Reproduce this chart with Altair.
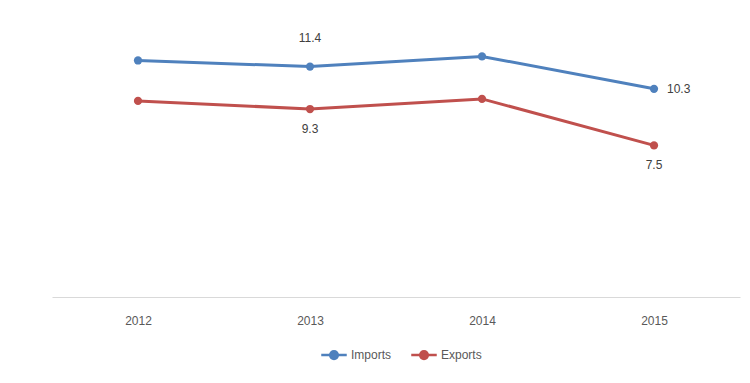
import altair as alt
import pandas as pd

years = ["2012", "2013", "2014", "2015"]
imports = [11.7, 11.4, 11.9, 10.3]
exports = [9.7, 9.3, 9.8, 7.5]
series = ["Imports", "Exports"]
colors = ["#4F81BD", "#C0504D"]

rows = []
for y, v in zip(years, imports):
    rows.append({"year": y, "series": "Imports", "value": v})
for y, v in zip(years, exports):
    rows.append({"year": y, "series": "Exports", "value": v})
df = pd.DataFrame(rows)

FONT = "Liberation Sans"
TXT = "#404040"

x = alt.X("year:N", title=None, sort=years,
          scale=alt.Scale(paddingInner=0, paddingOuter=0, align=0.5),
          axis=alt.Axis(labelAngle=0, ticks=False, labelPadding=18, domainColor="#D9D9D9",
                        labelColor="#595959", labelFont=FONT, labelFontSize=12, grid=False))
y = alt.Y("value:Q", title=None, scale=alt.Scale(domain=[0, 14]), axis=None)
color = alt.Color("series:N", sort=series,
                  scale=alt.Scale(domain=series, range=colors),
                  legend=alt.Legend(title=None, orient="none", direction="horizontal",
                                    legendX=268, legendY=327,
                                    symbolType="M-1,0L-0.3,0M0.3,0L1,0M-0.3,0A0.3,0.3 0 1,1 0.3,0A0.3,0.3 0 1,1 -0.3,0Z",
                                    symbolSize=650, symbolStrokeWidth=2.5,
                                    labelFont=FONT, labelFontSize=12, labelColor="#595959",
                                    columnPadding=14, labelOffset=3))

base = alt.Chart(df)
lines = base.mark_line(strokeWidth=3).encode(x=x, y=y, color=color)
points = base.mark_circle(size=68, opacity=1).encode(
    x=x, y=y,
    color=alt.Color("series:N", sort=series, scale=alt.Scale(domain=series, range=colors), legend=None))

txt = dict(font=FONT, fontSize=12, color=TXT)
above = base.mark_text(dy=-29, **txt).encode(x=x, y=y, text=alt.Text("value:Q", format=".1f")).transform_filter(
    (alt.datum.series == "Imports") & (alt.datum.year == "2013"))
right = base.mark_text(dx=13, align="left", **txt).encode(x=x, y=y, text=alt.Text("value:Q", format=".1f")).transform_filter(
    (alt.datum.series == "Imports") & (alt.datum.year == "2015"))
below = base.mark_text(dy=20, **txt).encode(x=x, y=y, text=alt.Text("value:Q", format=".1f")).transform_filter(
    (alt.datum.series == "Exports") & ((alt.datum.year == "2013") | (alt.datum.year == "2015")))

chart = alt.layer(lines, points, above, right, below).properties(
    width=688, height=283,
    padding={"left": 44, "top": 6, "right": 2, "bottom": 5},
).configure(background="white").configure_view(stroke=None)

chart.save("out.html", embed_options={"renderer": "svg", "actions": False})
